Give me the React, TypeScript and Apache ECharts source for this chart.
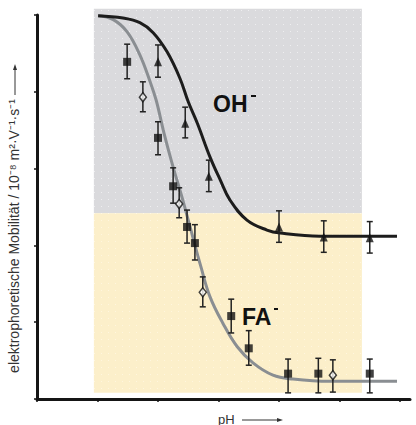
import React, { useEffect, useRef } from "react";
import * as echarts from "echarts";

// FA- fit curve (grey) and OH- fit curve (black)
const faCurveX = [1.01, 1.26, 1.49, 1.70, 1.87, 1.97, 2.10, 2.25, 2.41, 2.53, 2.71, 2.86, 3.07, 3.31, 3.57, 3.90, 4.23, 4.84, 5.95];
const faCurveY = [4.99, 4.94, 4.78, 4.48, 4.13, 3.89, 3.46, 3.02, 2.59, 2.24, 1.72, 1.33, 0.99, 0.68, 0.47, 0.31, 0.26, 0.23, 0.23];
const ohCurveX = [1.01, 1.42, 1.70, 1.92, 2.15, 2.36, 2.50, 2.65, 2.86, 3.03, 3.19, 3.47, 3.80, 4.02, 4.68, 5.95];
const ohCurveY = [4.99, 4.96, 4.90, 4.77, 4.52, 4.18, 3.87, 3.59, 3.15, 2.85, 2.59, 2.33, 2.20, 2.16, 2.12, 2.12];

// filled squares
const squareX = [1.49, 2.0, 2.25, 2.48, 2.61, 3.21, 3.50, 4.15, 4.65, 5.50];
const squareY = [4.39, 3.40, 2.77, 2.24, 2.03, 1.08, 0.66, 0.33, 0.33, 0.33];
const squareLo = [4.17, 3.18, 2.55, 2.03, 1.81, 0.86, 0.44, 0.08, 0.08, 0.08];
const squareHi = [4.62, 3.61, 3.01, 2.46, 2.27, 1.30, 0.89, 0.52, 0.53, 0.52];

// open diamonds
const diamondX = [1.75, 2.35, 2.74, 4.89];
const diamondY = [3.93, 2.54, 1.39, 0.31];
const diamondLo = [3.74, 2.36, 1.20, 0.09];
const diamondHi = [4.13, 2.75, 1.59, 0.51];

// filled triangles
const triangleX = [2.0, 2.45, 2.84, 4.0, 4.74, 5.50];
const triangleY = [4.39, 3.59, 2.90, 2.24, 2.11, 2.10];
const triangleLo = [4.19, 3.40, 2.70, 2.04, 1.91, 1.90];
const triangleHi = [4.61, 3.80, 3.11, 2.45, 2.32, 2.31];

// shaded regions [xStart, xEnd, yBottom, yTop]
const ohRegion = [0.94, 5.37, 2.42, 5.08];
const faRegion = [0.94, 5.37, 0.08, 2.42];

const xTicks = [0, 1, 2, 3, 4, 5, 6];

const FONT = "'Liberation Sans', Arial, Helvetica, sans-serif";

function dotPattern(bg: string, dot: string): any {
  const c = document.createElement("canvas");
  c.width = 7;
  c.height = 7;
  const ctx = c.getContext("2d");
  if (!ctx) return bg;
  ctx.fillStyle = bg;
  ctx.fillRect(0, 0, 7, 7);
  ctx.fillStyle = dot;
  ctx.fillRect(3, 3, 1, 1);
  return { image: c, repeat: "repeat" };
}

export default function App() {
  const ref = useRef<HTMLDivElement>(null);

  useEffect(() => {
    if (!ref.current) return;
    const chart = echarts.init(ref.current, null, { renderer: "svg" });

    const zip = (xs: number[], ys: number[]) => xs.map((x, i) => [x, ys[i]]);
    const errData = [
      ...squareX.map((x, i) => [x, squareLo[i], squareHi[i]]),
      ...diamondX.map((x, i) => [x, diamondLo[i], diamondHi[i]]),
      ...triangleX.map((x, i) => [x, triangleLo[i], triangleHi[i]]),
    ];
    const fills = [dotPattern("#dadadd", "#eeeef0"), dotPattern("#fcefca", "#fff6de")];

    const option: any = {
      animation: false,
      grid: { left: 37, right: 6, top: 15, bottom: 26, containLabel: false },
      xAxis: {
        type: "value",
        min: 0,
        max: 6.165,
        interval: 1,
        axisLine: { show: true, lineStyle: { color: "#151515", width: 3 } },
        axisTick: { show: true, customValues: xTicks, length: 3, lineStyle: { color: "#151515", width: 1.5 } },
        axisLabel: { show: false },
        splitLine: { show: false },
      },
      yAxis: {
        type: "value",
        min: 0,
        max: 5,
        interval: 1,
        axisLine: { show: true, lineStyle: { color: "#151515", width: 3 } },
        axisTick: { show: true, length: 3, lineStyle: { color: "#151515", width: 1.5 } },
        axisLabel: { show: false },
        splitLine: { show: false },
      },
      series: [
        {
          type: "custom",
          z: 0,
          silent: true,
          clip: false,
          data: [ohRegion, faRegion],
          encode: { x: [0, 1], y: [2, 3] },
          renderItem: (params: any, api: any) => {
            const p1 = api.coord([api.value(0), api.value(3)]);
            const p2 = api.coord([api.value(1), api.value(2)]);
            return {
              type: "rect",
              shape: { x: p1[0], y: p1[1], width: p2[0] - p1[0], height: p2[1] - p1[1] },
              style: { fill: fills[params.dataIndex] },
            };
          },
        },
        {
          type: "line",
          data: zip(faCurveX, faCurveY),
          smooth: 0.4,
          symbol: "none",
          z: 3,
          lineStyle: { color: "#8a8e92", width: 3 },
        },
        {
          type: "line",
          data: zip(ohCurveX, ohCurveY),
          smooth: 0.4,
          symbol: "none",
          z: 3,
          lineStyle: { color: "#1c1c1c", width: 3 },
        },
        {
          type: "custom",
          z: 4,
          data: errData,
          encode: { x: 0, y: [1, 2] },
          renderItem: (params: any, api: any) => {
            const x = api.value(0);
            const lo = api.value(1);
            const hi = api.value(2);
            const a = api.coord([x, hi]);
            const b = api.coord([x, lo]);
            const w = 3;
            const style = { stroke: "#222", lineWidth: 1.5 };
            return {
              type: "group",
              children: [
                { type: "line", shape: { x1: a[0], y1: a[1], x2: b[0], y2: b[1] }, style },
                { type: "line", shape: { x1: a[0] - w, y1: a[1], x2: a[0] + w, y2: a[1] }, style },
                { type: "line", shape: { x1: b[0] - w, y1: b[1], x2: b[0] + w, y2: b[1] }, style },
              ],
            };
          },
        },
        {
          type: "scatter",
          z: 5,
          data: zip(squareX, squareY),
          symbol: "rect",
          symbolSize: 8,
          itemStyle: { color: "#111" },
        },
        {
          type: "scatter",
          z: 5,
          data: zip(diamondX, diamondY),
          symbol: "diamond",
          symbolSize: [7, 9],
          itemStyle: { color: "#fff", borderColor: "#111", borderWidth: 1.5 },
        },
        {
          type: "scatter",
          z: 5,
          data: zip(triangleX, triangleY),
          symbol: "triangle",
          symbolSize: [8, 9],
          itemStyle: { color: "#111" },
        },
      ],
      graphic: [
        {
          type: "text",
          x: 213,
          y: 104,
          z: 10,
          style: { text: "OH", fontSize: 23, fontWeight: "bold", fontFamily: FONT, fill: "#111", verticalAlign: "middle", align: "left" },
        },
        { type: "rect", z: 10, shape: { x: 251, y: 95, width: 5, height: 2 }, style: { fill: "#111" } },
        {
          type: "text",
          x: 242,
          y: 317,
          z: 10,
          style: { text: "FA", fontSize: 23, fontWeight: "bold", fontFamily: FONT, fill: "#111", verticalAlign: "middle", align: "left" },
        },
        { type: "rect", z: 10, shape: { x: 274, y: 308, width: 4, height: 2 }, style: { fill: "#111" } },
        {
          type: "text",
          x: 14,
          y: 236,
          rotation: Math.PI / 2,
          z: 10,
          style: {
            text: "elektrophoretische Mobilität / 10⁻⁸ m²·V⁻¹·s⁻¹",
            fontSize: 14,
            fontFamily: FONT,
            fill: "#333",
            align: "center",
            verticalAlign: "middle",
          },
        },
        { type: "line", z: 10, shape: { x1: 15, y1: 95, x2: 15, y2: 68 }, style: { stroke: "#333", lineWidth: 1 } },
        { type: "polygon", z: 10, shape: { points: [[15, 64], [13, 70], [17, 70]] }, style: { fill: "#333" } },
        {
          type: "text",
          x: 218,
          y: 419,
          z: 10,
          style: { text: "pH", fontSize: 13, fontFamily: FONT, fill: "#333", align: "left", verticalAlign: "middle" },
        },
        { type: "line", z: 10, shape: { x1: 242, y1: 420, x2: 278, y2: 420 }, style: { stroke: "#333", lineWidth: 1 } },
        { type: "polygon", z: 10, shape: { points: [[283, 420], [277, 418], [277, 422]] }, style: { fill: "#333" } },
      ],
    };

    chart.setOption(option);
    return () => chart.dispose();
  }, []);

  return (
    <div
      ref={ref}
      style={{ position: "fixed", left: 0, top: 0, width: 416, height: 425, background: "#fff" }}
    />
  );
}
